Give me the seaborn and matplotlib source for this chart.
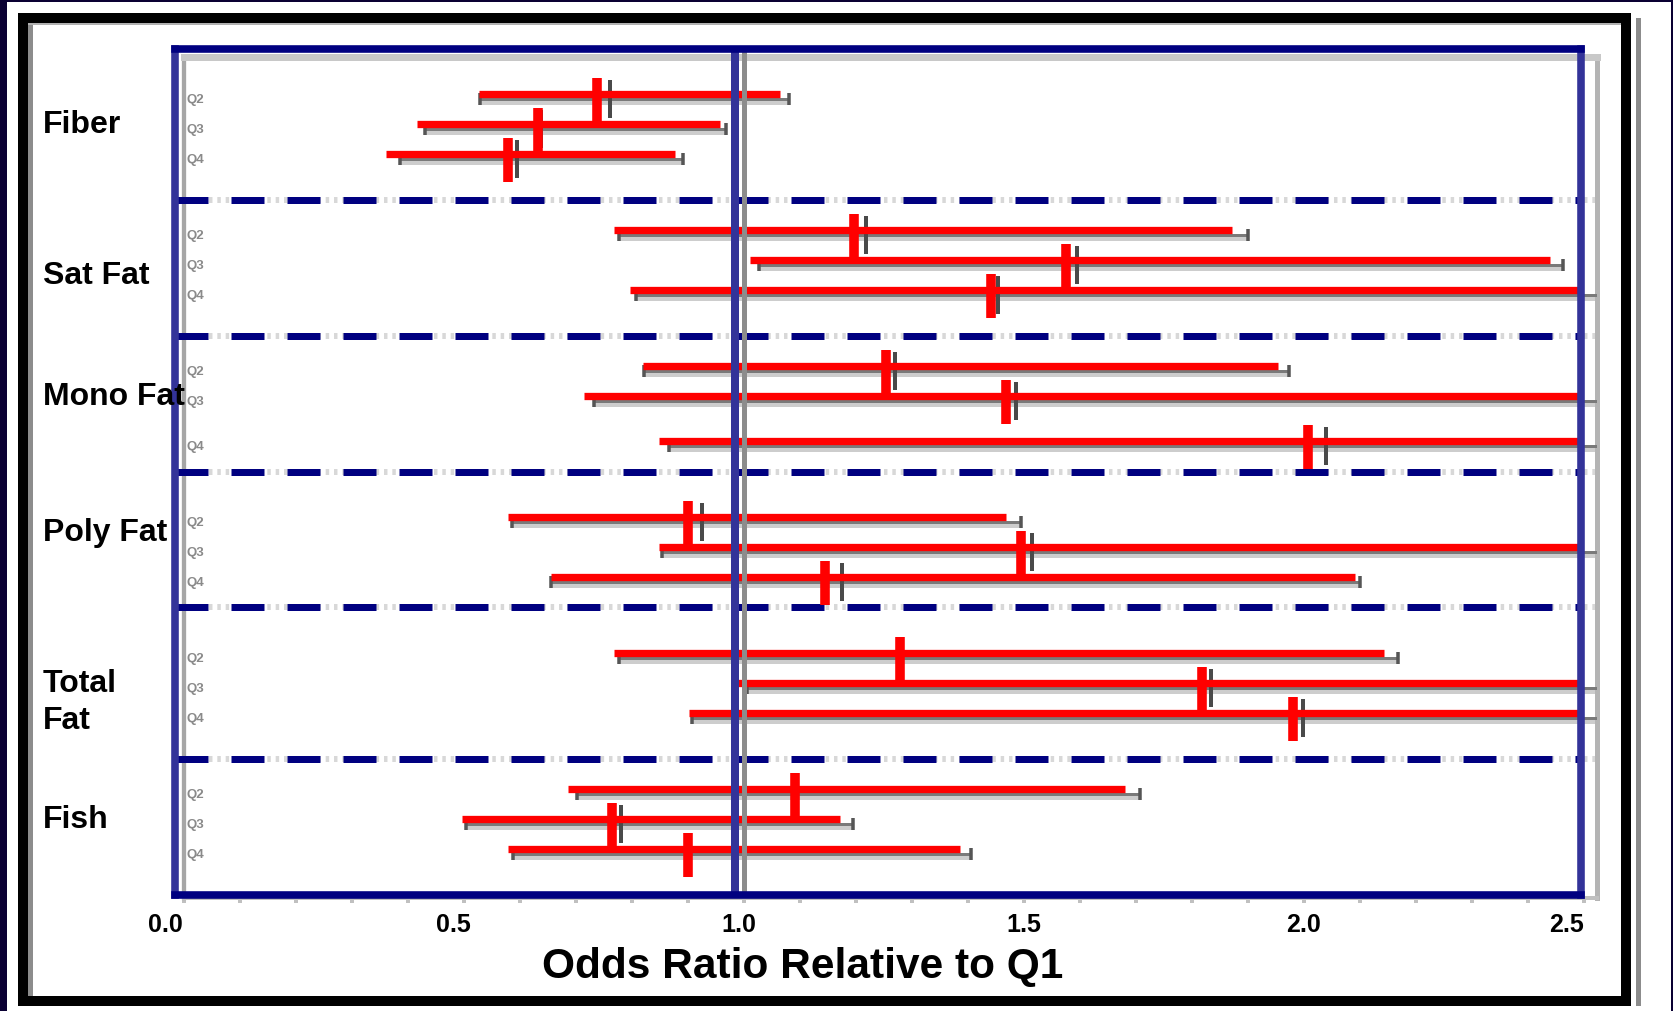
import numpy as np
import pandas as pd
import matplotlib
matplotlib.use("Agg")
import matplotlib.pyplot as plt
import seaborn as sns
from matplotlib.patches import Rectangle
from matplotlib.transforms import blended_transform_factory, ScaledTranslation

# ---------------- data ----------------
groups = ["Fiber", "Sat Fat", "Mono Fat", "Poly Fat", "Total\nFat", "Fish"]
quartiles = ["Q2", "Q3", "Q4"]

# adjusted estimates (red)
red_or = [0.755, 0.649, 0.595, 1.214, 1.592, 1.458, 1.270, 1.485, 2.024,
          0.917, 1.512, 1.161, 1.296, 1.835, 1.997, 1.108, 0.782, 0.917]
red_lo = [0.544, 0.433, 0.378, 0.784, 1.028, 0.813, 0.837, 0.731, 0.866,
          0.595, 0.866, 0.672, 0.784, 1.003, 0.919, 0.702, 0.513, 0.595]
red_hi = [1.081, 0.974, 0.893, 1.889, 2.457, 2.75, 1.971, 2.75, 2.75,
          1.485, 2.75, 2.108, 2.159, 2.75, 2.75, 1.698, 1.188, 1.403]

# underlying (gray) estimates
gray_or = [0.761, 0.637, 0.595, 1.218, 1.594, 1.453, 1.270, 1.485, 2.040,
           0.925, 1.514, 1.175, 1.281, 1.834, 1.999, 1.094, 0.780, 0.900]
gray_lo = [0.529, 0.430, 0.386, 0.776, 1.026, 0.807, 0.822, 0.732, 0.866,
           0.586, 0.853, 0.656, 0.776, 1.005, 0.908, 0.702, 0.504, 0.588]
gray_hi = [1.081, 0.967, 0.891, 1.900, 2.462, 2.75, 1.973, 2.75, 2.75,
           1.494, 2.75, 2.100, 2.167, 2.75, 2.75, 1.708, 1.194, 1.405]

xtick_values = [0.0, 0.5, 1.0, 1.5, 2.0, 2.5]
xtick_labels = ["0.0", "0.5", "1.0", "1.5", "2.0", "2.5"]
x_label = "Odds Ratio Relative to Q1"
reference_value = 1.0

# ---------------- layout ----------------
W, H = 1673, 1012
PX = 72 / 100  # points per pixel
TICK_NUDGE_PX = [-9, -1, 4, 9, 9, -8]   # hand placement of the original labels


def row_positions():
    ys = []
    for g in range(len(groups)):
        for q in range(len(quartiles)):
            y = 1.5 + g * 4.5 + q
            if (g, q) >= (2, 2):
                y += 0.5
            ys.append(y)
    return ys


ROW_Y = row_positions()
SEP_Y = [5.0, 9.5, 14.0, 18.5, 23.5]
LABEL_Y = [2.5, 7.5, 11.5, 16.0, 21.62, 25.5]
MARK_OFF = 0.2

df = pd.DataFrame({
    "group": np.repeat(groups, len(quartiles)),
    "quartile": quartiles * len(groups),
    "red_or": red_or, "red_lo": red_lo, "red_hi": red_hi,
    "gray_or": gray_or, "gray_lo": gray_lo, "gray_hi": gray_hi,
    "y": ROW_Y,
})
df["y_mark"] = df["y"] + MARK_OFF

sns.set_theme(style="white")
plt.rcParams["font.family"] = ["Liberation Sans", "DejaVu Sans"]
plt.rcParams["lines.scale_dashes"] = False

fig = plt.figure(figsize=(W / 100, H / 100), dpi=100)
fig.patch.set_facecolor("white")


def px_rect(x, y, w, h, color):
    fig.add_artist(Rectangle((x / W, 1 - (y + h) / H), w / W, h / H,
                             transform=fig.transFigure, color=color, lw=0, zorder=0))


# outer frame
navy = "#0a0033"
px_rect(0, 0, 7, H, navy)
px_rect(0, 0, W, 3, navy)
px_rect(W - 2, 0, 2, H, navy)
px_rect(18, 14, 1613, 10, "black")
px_rect(18, 14, 10, 993, "black")
px_rect(1621, 19, 10, 988, "black")
px_rect(18, 997, 1613, 10, "black")
px_rect(28, 24, 5, 973, "#8c8c8c")
px_rect(28, 24, 1593, 2, "#b0b0b0")
px_rect(1636, 19, 5, 988, "#8c8c8c")

# ---------------- gray (shadow) axes ----------------
gx0, gx1, gy0, gy1 = 184, 1597, 58, 899
axg = fig.add_axes([gx0 / W, 1 - gy1 / H, (gx1 - gx0) / W, (gy1 - gy0) / H])
axg.set_facecolor("none")
axg.set_xlim(0, (gx1 - gx0) / 560)
axg.set_ylim(27.95, 0.116)
for side, col, lw in [("left", "#a6a6a6", 4.3), ("top", "#c8c8c8", 7),
                      ("right", "#b4b4b4", 5), ("bottom", "#c0c0c0", 4)]:
    axg.spines[side].set_color(col)
    axg.spines[side].set_linewidth(lw * PX)
axg.set_xticks(np.round(np.arange(0, 2.55, 0.1), 2))
axg.set_xticklabels([])
axg.set_yticks([])
axg.tick_params(axis="x", direction="out", length=5 * PX, width=4 * PX,
                colors="#c0c0c0", bottom=True)
for s in SEP_Y:
    axg.axhline(s - 0.165, color="#d8d8d8", lw=6 * PX,
                linestyle=(0, (2.5, 3.5)), zorder=1)
axg.hlines(df["y"] + 0.06, df["gray_lo"], df["gray_hi"], color="#cdcdcd",
           lw=7 * PX, zorder=2)
axg.hlines(df["y"], df["gray_lo"], df["gray_hi"], color="#7a7a7a",
           lw=3 * PX, zorder=3)
sns.scatterplot(data=df, x="gray_lo", y="y", marker="|", s=(12 * PX) ** 2,
                linewidth=3.5 * PX, color="#555555", ax=axg, legend=False, zorder=4)
caps = df[df["gray_hi"] < 2.52]
sns.scatterplot(data=caps, x="gray_hi", y="y", marker="|", s=(12 * PX) ** 2,
                linewidth=3.5 * PX, color="#555555", ax=axg, legend=False, zorder=4)
sns.scatterplot(data=df, x="gray_or", y="y", marker="|", s=(38 * PX) ** 2,
                linewidth=4 * PX, color="#4a4a4a", ax=axg, legend=False, zorder=5)
for y, q in zip(df["y"], df["quartile"]):
    axg.text(0.004, y, q, fontsize=9.5, color="#8a8a8a", ha="left",
             va="center", fontweight="bold")
axg.set_xlabel("")
axg.set_ylabel("")

# ---------------- main (blue) axes ----------------
bx0, bx1, by0, by1 = 174.5, 1581, 49.5, 895.5
ax = fig.add_axes([bx0 / W, 1 - by1 / H, (bx1 - bx0) / W, (by1 - by0) / H])
ax.set_facecolor("none")
ax.set_xlim(0, (bx1 - bx0) / 560)
ax.set_ylim(28, 0)
for side, col in [("left", "#333399"), ("right", "#333399"),
                  ("top", "#000080"), ("bottom", "#000080")]:
    ax.spines[side].set_color(col)
    ax.spines[side].set_linewidth(7.6 * PX)
    ax.spines[side].set_zorder(10)

for s in SEP_Y:
    ax.axhline(s, color="#000080", lw=7 * PX,
               linestyle=(0, (33 * PX, 23 * PX)), zorder=2)
ax.hlines(df["y"], df["red_lo"], df["red_hi"], color="#ff0000",
          lw=7.3 * PX, zorder=3)
sns.scatterplot(data=df, x="red_or", y="y_mark", marker="|", s=(44 * PX) ** 2,
                linewidth=9.6 * PX, color="#ff0000", ax=ax, legend=False, zorder=4)
# shadow reference line (gray plot's 1.0) shows through the red bars
ax.axvline(reference_value + 9.5 / 560, color="#8c8c8c", lw=5 * PX, zorder=5)
ax.axvline(reference_value, color="#333399", lw=8 * PX, zorder=6)

ax.set_yticks([])
ax.set_xticks(xtick_values)
ax.set_xticklabels([])
ax.tick_params(axis="x", length=0)
xtrans = blended_transform_factory(ax.transData, fig.transFigure)
for v, lab, dx in zip(xtick_values, xtick_labels, TICK_NUDGE_PX):
    ax.text(v, 1 - 932 / H, lab, fontsize=18, fontweight="bold", color="black",
            ha="center", va="baseline", clip_on=False,
            transform=xtrans + ScaledTranslation(dx / 100, 0, fig.dpi_scale_trans))
ax.set_xlabel("")
ax.set_ylabel("")

trans = blended_transform_factory(fig.transFigure, ax.transData)
for g, y in zip(groups, LABEL_Y):
    ax.text(43 / W, y, g, transform=trans, fontsize=23, fontweight="bold",
            color="black", ha="left", va="center", linespacing=1.3,
            clip_on=False, zorder=12)

fig.text(802.5 / W, 1 - 978 / H, x_label, fontsize=30.5, fontweight="bold",
         color="black", ha="center", va="baseline")

fig.savefig("out.png", dpi=100)
